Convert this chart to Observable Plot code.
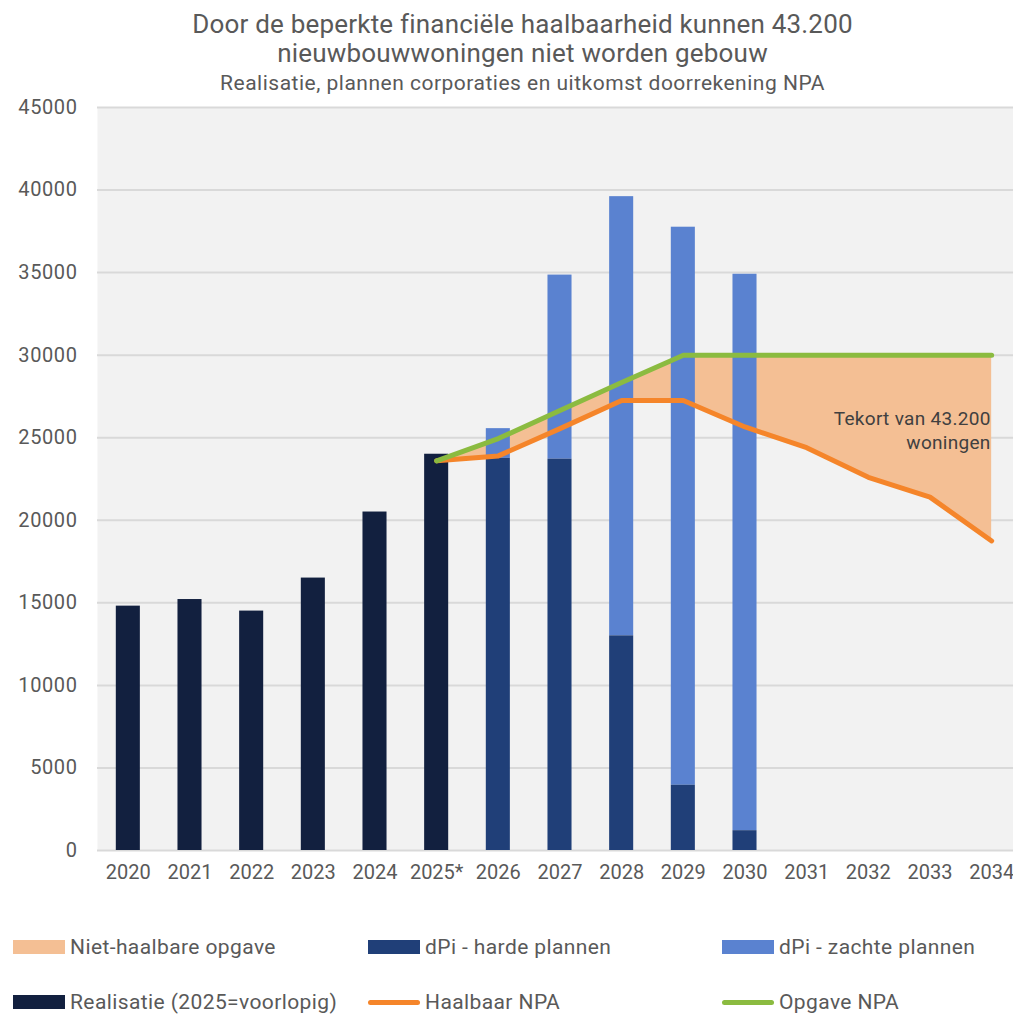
<!DOCTYPE html>
<html>
<head>
<meta charset="utf-8">
<script src="https://cdn.jsdelivr.net/npm/d3@7"></script>
<script src="https://cdn.jsdelivr.net/npm/@observablehq/plot@0.6"></script>
<style>
  body { margin: 0; background: #fff; font-family: Roboto, "Open Sans", sans-serif; color: #595959; }
  #wrap { position: relative; width: 1013px; height: 1015px; overflow: hidden; }
  .title { position: absolute; left: 0; width: 1045px; text-align: center; white-space: nowrap; }
  #chart { position: absolute; left: 0; top: 80px; }
  .item { position: absolute; display: flex; align-items: center; font-size: 21px; letter-spacing: 0.4px; white-space: nowrap; }
  .sw { width: 52px; height: 14px; margin-right: 5px; }
  .ln { width: 52px; height: 5px; border-radius: 3px; margin-right: 5px; }
</style>
</head>
<body>
<div id="wrap">
  <div class="title" style="top:9px;font-size:26px;line-height:30px;letter-spacing:0.2px;">Door de beperkte financiële haalbaarheid kunnen 43.200</div>
  <div class="title" style="top:38px;font-size:26px;line-height:30px;letter-spacing:0.2px;">nieuwbouwwoningen niet worden gebouw</div>
  <div class="title" style="top:71px;font-size:21px;line-height:24px;letter-spacing:0.5px;">Realisatie, plannen corporaties en uitkomst doorrekening NPA</div>
  <div id="chart"></div>
  <div id="legend"></div>
</div>
<script>
// Years on the category axis
const years = ["2020", "2021", "2022", "2023", "2024", "2025*", "2026", "2027", "2028", "2029", "2030", "2031", "2032", "2033", "2034"];

// Realised new-build (2025 provisional)
const realisatieYears = ["2020", "2021", "2022", "2023", "2024", "2025*"];
const realisatie = [14800, 15200, 14500, 16500, 20500, 24000];

// Housing association plans (dPi): firm and soft plans
const planYears = ["2026", "2027", "2028", "2029", "2030"];
const hardePlannen = [23750, 23700, 13000, 3950, 1200];
const zachtePlannen = [1800, 11150, 26600, 33800, 33700];

// NPA: target and financially feasible output
const npaYears = ["2025*", "2026", "2027", "2028", "2029", "2030", "2031", "2032", "2033", "2034"];
const opgaveNPA = [23600, 24950, 26650, 28350, 30000, 30000, 30000, 30000, 30000, 30000];
const haalbaarNPA = [23600, 23900, 25550, 27250, 27250, 25650, 24400, 22600, 21400, 18750];

const yTicks = [0, 5000, 10000, 15000, 20000, 25000, 30000, 35000, 40000, 45000];

const colors = {
  realisatie: "#12203f",
  harde: "#203f78",
  zacht: "#5a82d0",
  gap: "#f4bf94",
  haalbaar: "#f5852a",
  opgave: "#8bbb40"
};

const realRows = realisatieYears.map((year, i) => ({year, value: realisatie[i]}));
const planRows = planYears.map((year, i) => ({year, harde: hardePlannen[i], totaal: hardePlannen[i] + zachtePlannen[i]}));
const npaRows = npaYears.map((year, i) => ({year, opgave: opgaveNPA[i], haalbaar: haalbaarNPA[i]}));

const chart = Plot.plot({
  width: 1013,
  height: 820,
  marginTop: 27,
  marginBottom: 50,
  marginLeft: 97,
  marginRight: 0,
  style: {fontFamily: "Roboto, 'Open Sans', sans-serif", fontSize: "20px", color: "#595959", background: "transparent", overflow: "visible"},
  x: {domain: years, range: [97, 1022], paddingInner: 0.61, paddingOuter: 0.305, round: false, label: null},
  y: {domain: [0, 45000], label: null},
  marks: [
    Plot.frame({fill: "#f2f2f2", stroke: null}),
    Plot.ruleY(yTicks, {stroke: "#d9d9d9", strokeWidth: 2}),
    Plot.areaY(npaRows, {x: "year", y1: "haalbaar", y2: "opgave", fill: colors.gap}),
    Plot.barY(realRows, {x: "year", y: "value", fill: colors.realisatie}),
    Plot.barY(planRows, {x: "year", y1: "harde", y2: "totaal", fill: colors.zacht}),
    Plot.barY(planRows, {x: "year", y1: 0, y2: "harde", fill: colors.harde}),
    Plot.line(npaRows, {x: "year", y: "haalbaar", stroke: colors.haalbaar, strokeWidth: 5, strokeLinecap: "round", strokeLinejoin: "round"}),
    Plot.line(npaRows, {x: "year", y: "opgave", stroke: colors.opgave, strokeWidth: 5, strokeLinecap: "round", strokeLinejoin: "round"}),
    Plot.text([{year: "2034", y: 25500, label: "Tekort van 43.200\nwoningen"}], {
      x: "year", y: "y", text: "label", textAnchor: "end", lineAnchor: "middle",
      fontSize: 19, fill: "#404040", lineHeight: 1.25, dx: -1
    }),
    Plot.axisY(yTicks, {tickSize: 0, tickPadding: 20, tickFormat: d => String(d), fontSize: 20}),
    Plot.axisX({tickSize: 0, tickPadding: 14, fontSize: 20})
  ]
});
chart.querySelectorAll("text").forEach(t => {
  if (t.textContent.startsWith("Tekort")) t.style.letterSpacing = "0.3px";
});
chart.querySelectorAll("[aria-label='y-axis tick label'] text").forEach(t => t.style.letterSpacing = "0.6px");
document.getElementById("chart").appendChild(chart);

// Legend below the chart
const legendItems = [
  {label: "Niet-haalbare opgave", color: colors.gap, kind: "sw", x: 13, y: 947},
  {label: "dPi - harde plannen", color: colors.harde, kind: "sw", x: 368, y: 947},
  {label: "dPi - zachte plannen", color: colors.zacht, kind: "sw", x: 722, y: 947},
  {label: "Realisatie (2025=voorlopig)", color: colors.realisatie, kind: "sw", x: 13, y: 1002},
  {label: "Haalbaar NPA", color: colors.haalbaar, kind: "ln", x: 368, y: 1002},
  {label: "Opgave NPA", color: colors.opgave, kind: "ln", x: 722, y: 1002}
];
const legend = document.getElementById("legend");
for (const it of legendItems) {
  const el = document.createElement("div");
  el.className = "item";
  el.style.left = it.x + "px";
  el.style.top = (it.y - 13) + "px";
  el.style.height = "26px";
  const sw = document.createElement("span");
  sw.className = it.kind;
  sw.style.background = it.color;
  el.appendChild(sw);
  el.appendChild(document.createTextNode(it.label));
  legend.appendChild(el);
}
</script>
</body>
</html>
